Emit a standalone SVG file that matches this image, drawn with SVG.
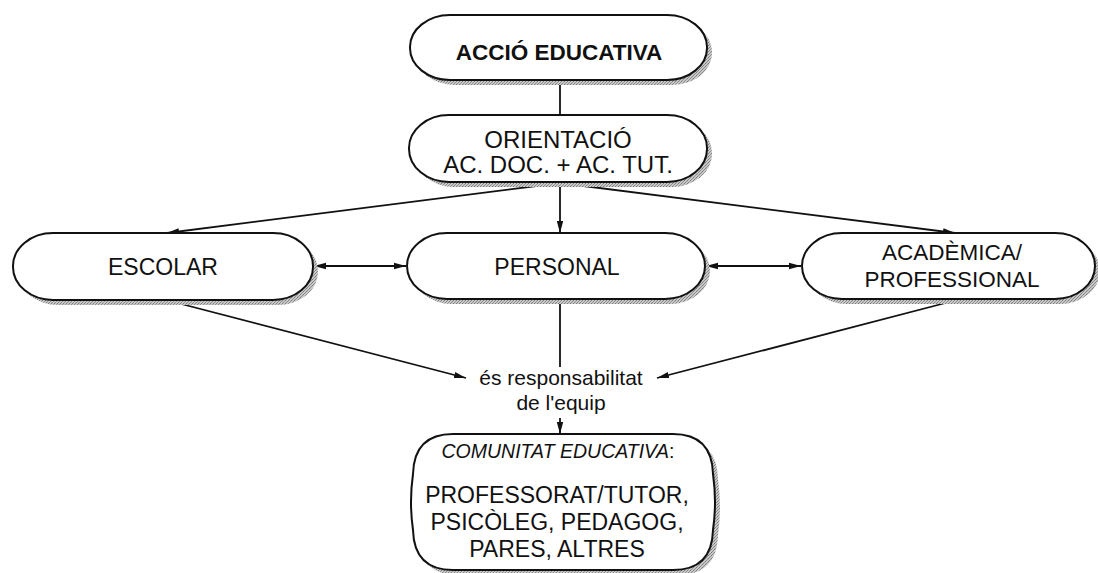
<svg xmlns="http://www.w3.org/2000/svg" width="1098" height="573" viewBox="0 0 1098 573">
<style>
.node{fill:#fff;stroke:#111;stroke-width:2}
.shadow{fill:url(#dots);stroke:none}
.t{font-family:"Liberation Sans",Arial,sans-serif;font-size:23px;fill:#111;text-anchor:middle}
.b{font-weight:bold;font-size:22.5px}
.o{font-size:24px}
.a{font-size:22.5px}
.s{font-size:21px}
.i{font-style:italic;font-size:19.5px}
.c{stroke:#111;stroke-width:1.8;fill:none}
</style>
<defs>
<pattern id="dots" width="3" height="3" patternUnits="userSpaceOnUse">
<rect width="3" height="3" fill="#c8c8c8"/>
<rect width="1" height="1" fill="#7a7a7a"/>
<rect x="2" y="1" width="1" height="1" fill="#909090"/>
<rect x="1" y="2" width="1" height="1" fill="#8a8a8a"/>
</pattern>
<marker id="ah" viewBox="0 0 12 8" refX="12" refY="4" markerWidth="12" markerHeight="8" markerUnits="userSpaceOnUse" orient="auto-start-reverse">
<path d="M0,0.8 L12,4 L0,7.2 Z" fill="#111"/>
</marker>
</defs>
<rect width="1098" height="573" fill="#fff"/>

<g id="connectors">
<line class="c" x1="560" y1="80" x2="560" y2="115"/>
<line class="c" x1="560" y1="183" x2="167" y2="233" marker-end="url(#ah)"/>
<line class="c" x1="560" y1="183" x2="560" y2="233" marker-end="url(#ah)"/>
<line class="c" x1="560" y1="183" x2="955" y2="233" marker-end="url(#ah)"/>
<line class="c" x1="314" y1="266" x2="406" y2="266" marker-start="url(#ah)" marker-end="url(#ah)"/>
<line class="c" x1="706" y1="266" x2="801" y2="266" marker-start="url(#ah)" marker-end="url(#ah)"/>
<line class="c" x1="166" y1="300" x2="466" y2="378" marker-end="url(#ah)"/>
<line class="c" x1="560" y1="300" x2="560" y2="367"/>
<line class="c" x1="957" y1="300" x2="657" y2="378" marker-end="url(#ah)"/>
<line class="c" x1="560" y1="418" x2="560" y2="434" marker-end="url(#ah)"/>
</g>

<g id="accio">
<rect class="shadow" x="415" y="20" width="297" height="65" rx="40" ry="32"/>
<rect class="node" x="410" y="15" width="297" height="65" rx="40" ry="32"/>
<text class="t b" x="559" y="60">ACCIÓ EDUCATIVA</text>
</g>

<g id="orientacio">
<rect class="shadow" x="414" y="120" width="298" height="67" rx="40" ry="33"/>
<rect class="node" x="409" y="115" width="298" height="67" rx="40" ry="33"/>
<text class="t o" x="558" y="148">ORIENTACIÓ</text>
<text class="t o" x="558" y="173">AC. DOC. + AC. TUT.</text>
</g>

<g id="escolar">
<rect class="shadow" x="18" y="238" width="300" height="67" rx="40" ry="33"/>
<rect class="node" x="13" y="233" width="300" height="67" rx="40" ry="33"/>
<text class="t" x="163" y="275">ESCOLAR</text>
</g>

<g id="personal">
<rect class="shadow" x="412" y="238" width="298" height="66" rx="40" ry="33"/>
<rect class="node" x="407" y="233" width="298" height="66" rx="40" ry="33"/>
<text class="t" x="557" y="275">PERSONAL</text>
</g>

<g id="academica">
<rect class="shadow" x="807" y="238" width="293" height="66" rx="40" ry="33"/>
<rect class="node" x="802" y="233" width="293" height="66" rx="40" ry="33"/>
<text class="t a" x="952" y="260">ACADÈMICA/</text>
<text class="t a" x="952" y="287">PROFESSIONAL</text>
</g>

<g id="responsabilitat">
<text class="t s" x="561" y="385">és responsabilitat</text>
<text class="t s" x="561" y="410">de l'equip</text>
</g>

<g id="comunitat">
<path class="shadow" d="M458,439 L678,439 Q717,439 718,479 Q722,507 718,535 Q717,575 678,575 L458,575 Q419,575 418,535 Q414,507 418,479 Q419,439 458,439 Z"/>
<path class="node" d="M453,434 L673,434 Q712,434 713,474 Q717,502 713,530 Q712,570 673,570 L453,570 Q414,570 413,530 Q409,502 413,474 Q414,434 453,434 Z"/>
<text class="t i" x="558" y="458">COMUNITAT EDUCATIVA<tspan font-style="normal">:</tspan></text>
<text class="t" x="557" y="503">PROFESSORAT/TUTOR,</text>
<text class="t" x="557" y="530">PSICÒLEG, PEDAGOG,</text>
<text class="t" x="557" y="557">PARES, ALTRES</text>
</g>
</svg>
